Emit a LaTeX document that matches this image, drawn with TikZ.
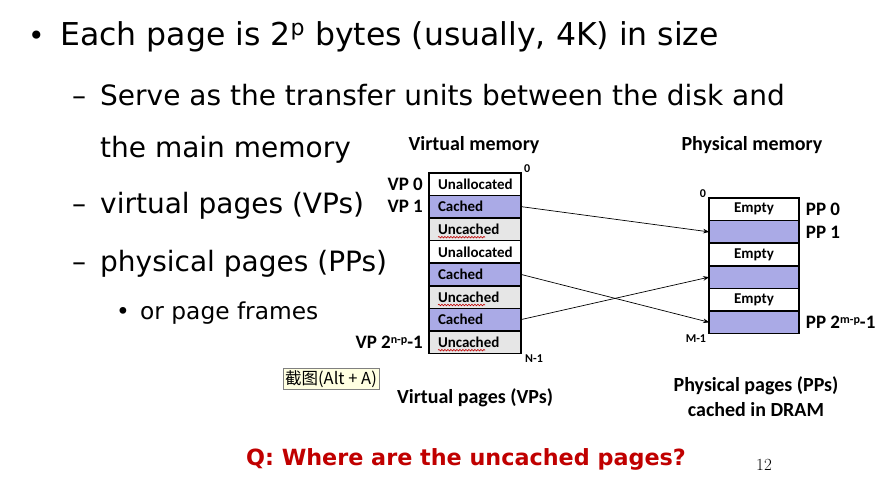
\documentclass[tikz,border=0pt]{standalone}
\usepackage{fontspec}
\usepackage{xcolor}
\usetikzlibrary{arrows.meta, positioning, decorations.pathmorphing}
\newfontfamily\bodyfont{DejaVu Sans}
\newfontfamily\labfont{Carlito}
\newfontfamily\cjkfont{Noto Sans CJK SC}
\definecolor{cachedblue}{RGB}{170,170,230}
\definecolor{uncgray}{RGB}{230,230,230}
\definecolor{qred}{RGB}{192,0,0}
\definecolor{tipyellow}{RGB}{255,255,225}
\newcommand{\upidx}[1]{\raisebox{0.5ex}{\fontsize{12}{12}\selectfont #1}}

\begin{document}
\begin{tikzpicture}[x=1pt, y=-1pt, >=Stealth,
  every node/.style={inner sep=0pt},
  bigtxt/.style={font=\bodyfont\fontsize{28}{34}\selectfont, anchor=base west},
  smalltxt/.style={font=\bodyfont\fontsize{23.3}{28}\selectfont, anchor=base west},
  lab/.style={font=\labfont\bfseries\fontsize{19}{22}\selectfont},
  head/.style={font=\labfont\bfseries\fontsize{20}{24}\selectfont},
  tinylab/.style={font=\labfont\bfseries\fontsize{12}{14}\selectfont},
  cell/.style={draw, line width=1.6pt, minimum height=22.6pt, outer sep=0pt,
    font=\labfont\bfseries\fontsize{15}{17}\selectfont},
  vcell/.style={cell, text width=74pt, inner xsep=9pt, align=left},
  pcell/.style={cell, minimum width=89.5pt},
  spell/.style={qred, line width=0.6pt, decorate,
    decoration={snake, amplitude=0.8pt, segment length=3pt}}]
  \useasboundingbox (0,0) rectangle (876,491);

  % bullet text
  \node[bigtxt] (b1) at (28,45) {•};
  \node[bigtxt, font=\bodyfont\fontsize{31.5}{36}\selectfont] (t1) at (60,45) {Each page is 2\textsuperscript{p} bytes (usually, 4K) in size};
  \node[bigtxt] (d2) at (72,105) {–};
  \node[bigtxt] (t2) at (100,105) {Serve as the transfer units between the disk and};
  \node[bigtxt] (t3) at (100,157) {the main memory};
  \node[bigtxt] (d4) at (72,213) {–};
  \node[bigtxt] (t4) at (100,213) {virtual pages (VPs)};
  \node[bigtxt] (d5) at (72,271) {–};
  \node[bigtxt] (t5) at (100,271) {physical pages (PPs)};
  \node[smalltxt] (b6) at (116,319) {•};
  \node[smalltxt] (t6) at (140,319) {or page frames};

  % virtual memory
  \node[head] (vmem) at (474,145) {Virtual memory};
  \node[vcell, fill=white]      (v0) at (475,184.0) {Unallocated};
  \node[vcell, fill=cachedblue] (v1) at (475,206.6) {Cached};
  \node[vcell, fill=uncgray]    (v2) at (475,229.2) {Uncached};
  \node[vcell, fill=white]      (v3) at (475,251.8) {Unallocated};
  \node[vcell, fill=cachedblue] (v4) at (475,274.4) {Cached};
  \node[vcell, fill=uncgray]    (v5) at (475,297.0) {Uncached};
  \node[vcell, fill=cachedblue] (v6) at (475,319.6) {Cached};
  \node[vcell, fill=uncgray]    (v7) at (475,342.2) {Uncached};
  \foreach \r in {v2,v5,v7}
    \draw[spell] ([xshift=9pt,yshift=-8pt]\r.west) -- ++(47,0);
  \node[tinylab, anchor=south west] (vtop) at ([xshift=3pt]v0.north east) {0};
  \node[tinylab, anchor=north west] (vbot) at ([xshift=4pt,yshift=-1pt]v7.south east) {N-1};
  \node[lab, anchor=east] (vp0) at ([xshift=-6pt]v0.west) {VP 0};
  \node[lab, anchor=east] (vp1) at ([xshift=-6pt]v1.west) {VP 1};
  \node[lab, anchor=east] (vpn) at ([xshift=-6pt]v7.west) {VP 2\upidx{n-p}-1};
  \node[head] (vpages) at (475,398) {Virtual pages (VPs)};

  % physical memory
  \node[head] (pmem) at (752,145) {Physical memory};
  \node[pcell, fill=white]      (p0) at (754,209.3) {Empty};
  \node[pcell, fill=cachedblue] (p1) at (754,231.9) {};
  \node[pcell, fill=white]      (p2) at (754,254.5) {Empty};
  \node[pcell, fill=cachedblue] (p3) at (754,277.1) {};
  \node[pcell, fill=white]      (p4) at (754,299.7) {Empty};
  \node[pcell, fill=cachedblue] (p5) at (754,322.3) {};
  \node[tinylab, anchor=south east] (ptop) at ([xshift=-3pt]p0.north west) {0};
  \node[tinylab, anchor=north east] (pbot) at ([xshift=-3pt,yshift=-1pt]p5.south west) {M-1};
  \node[lab, anchor=west] (pp0) at ([xshift=7pt]p0.east) {PP 0};
  \node[lab, anchor=west] (pp1) at ([xshift=7pt]p1.east) {PP 1};
  \node[lab, anchor=west] (ppn) at ([xshift=7pt]p5.east) {PP 2\upidx{m-p}-1};
  \node[head, align=center] (ppages) at (756,397) {Physical pages (PPs)\\[1pt]cached in DRAM};

  % mappings
  \draw[->, line width=0.7pt] (v1.east) -- (p1.west);
  \draw[->, line width=0.7pt] (v4.east) -- (p5.west);
  \draw[->, line width=0.7pt] (v6.east) -- (p3.west);

  % tooltip and question
  \node[draw=gray, fill=tipyellow, inner sep=2pt, font=\cjkfont\fontsize{16.5}{19}\selectfont] (tip) at (331,379) {截图(Alt + A)};
  \node[font=\bodyfont\bfseries\fontsize{22.3}{26}\selectfont, text=qred, anchor=base] (q) at (466,465) {Q: Where are the uncached pages?};
  \node[font=\rmfamily\fontsize{17}{20}\selectfont, anchor=base west] (pg) at (756,470) {12};
\end{tikzpicture}
\end{document}
